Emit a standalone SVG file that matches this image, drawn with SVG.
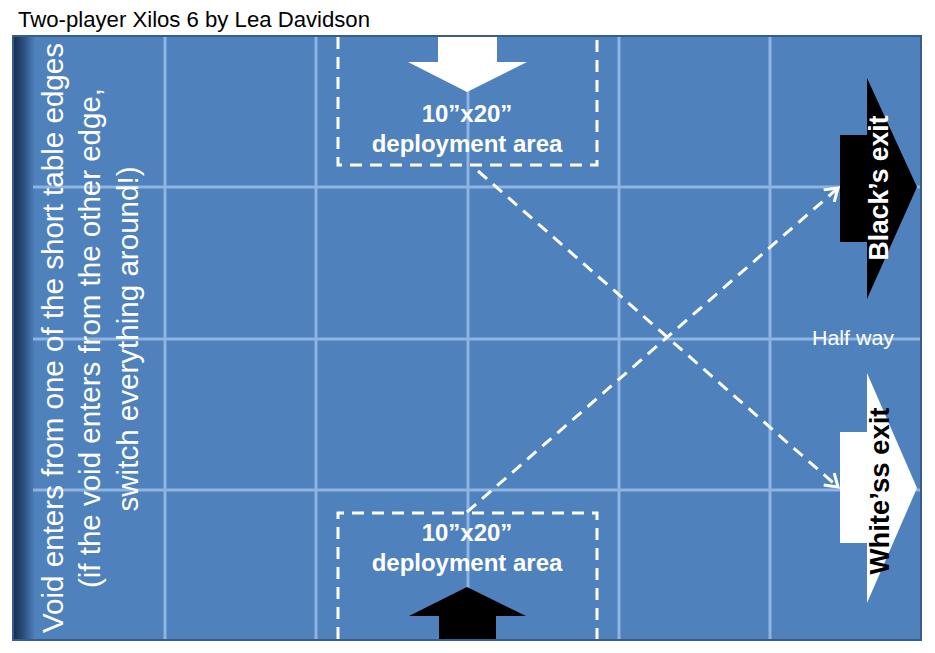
<svg xmlns="http://www.w3.org/2000/svg" width="935" height="653" viewBox="0 0 935 653">
  <style>
    .grid { stroke: #8EB4E3; stroke-width: 3; fill: none; }
    .dash { stroke: #FFFFFF; stroke-width: 3; stroke-dasharray: 12 8; fill: none; }
    .conn { stroke: #FFFFFF; stroke-width: 3; stroke-dasharray: 12 8; fill: none; }
    .sans { font-family: "Liberation Sans", Arial, sans-serif; }
    .dep { font-family: "Liberation Sans", Arial, sans-serif; font-weight: bold; font-size: 24px; fill: #FFFFFF; text-anchor: middle; }
    .exit { font-family: "Liberation Sans", Arial, sans-serif; font-weight: bold; font-size: 28px; text-anchor: middle; }
  </style>
  <defs>
    <linearGradient id="edge" x1="0" y1="0" x2="1" y2="0">
      <stop offset="0" stop-color="#17304F"/>
      <stop offset="0.5" stop-color="#2E5283"/>
      <stop offset="1" stop-color="#4F81BD"/>
    </linearGradient>
    <marker id="chev" markerUnits="userSpaceOnUse" markerWidth="30" markerHeight="30" viewBox="-15 -15 30 30" refX="0" refY="0" orient="auto">
      <path d="M-12,-8 L0,0 L-12,8" fill="none" stroke="#FFFFFF" stroke-width="3"/>
    </marker>
  </defs>

  <rect width="935" height="653" fill="#FFFFFF"/>

  <g id="title">
    <text class="sans" x="18" y="27" font-size="22" fill="#000000" textLength="352" lengthAdjust="spacingAndGlyphs">Two-player Xilos 6 by Lea Davidson</text>
  </g>

  <g id="board">
    <rect x="13" y="36" width="908" height="604" fill="#4F81BD" stroke="#385D8A" stroke-width="2"/>
    <rect x="14" y="37" width="21" height="602" fill="url(#edge)"/>
    <path class="grid" d="M165,37 V639 M316,37 V639 M468,37 V639 M619,37 V639 M770,37 V639 M33,187 H920 M33,339 H920 M33,490 H920"/>
  </g>

  <g id="void-note">
    <text class="sans" transform="translate(63,338) rotate(-90)" font-size="30" fill="#FFFFFF" text-anchor="middle" textLength="590" lengthAdjust="spacingAndGlyphs">Void enters from one of the short table edges</text>
    <text class="sans" transform="translate(100,338) rotate(-90)" font-size="30" fill="#FFFFFF" text-anchor="middle" textLength="500" lengthAdjust="spacingAndGlyphs">(if the void enters from the other edge,</text>
    <text class="sans" transform="translate(138,339) rotate(-90)" font-size="30" fill="#FFFFFF" text-anchor="middle" textLength="345" lengthAdjust="spacingAndGlyphs">switch everything around!)</text>
  </g>

  <g id="top-deployment">
    <path class="dash" d="M338,37 V165 H597 V37"/>
    <polygon points="438,37 497,37 497,62 527,62 467,92 408,62 438,62" fill="#FFFFFF"/>
    <text class="dep" x="467" y="122">10”x20”</text>
    <text class="dep" x="467" y="152">deployment area</text>
  </g>

  <g id="bottom-deployment">
    <path class="dash" d="M338,639 V513 H597 V639"/>
    <polygon points="439,639 439,616 409,616 467,587 526,616 496,616 496,639" fill="#000000"/>
    <text class="dep" x="467" y="541">10”x20”</text>
    <text class="dep" x="467" y="571">deployment area</text>
  </g>

  <g id="connectors">
    <line class="conn" x1="467" y1="512" x2="838" y2="188" marker-end="url(#chev)"/>
    <line class="conn" x1="478" y1="171" x2="838" y2="487" marker-end="url(#chev)"/>
  </g>

  <g id="black-exit">
    <polygon points="840,135 867,135 867,78 917,187 867,299 867,242 840,242" fill="#000000"/>
    <text class="exit" transform="translate(888,188) rotate(-90)" fill="#FFFFFF" textLength="145" lengthAdjust="spacingAndGlyphs">Black’s exit</text>
  </g>

  <g id="white-exit">
    <polygon points="840,432 867,432 867,373 917,488 867,603 867,543 840,543" fill="#FFFFFF"/>
    <text class="exit" transform="translate(889,491) rotate(-90)" fill="#000000" textLength="167" lengthAdjust="spacingAndGlyphs">White’ss exit</text>
  </g>

  <g id="half-way">
    <text class="sans" x="853" y="345" font-size="20" fill="#FFFFFF" text-anchor="middle" textLength="82" lengthAdjust="spacingAndGlyphs">Half way</text>
  </g>
</svg>
